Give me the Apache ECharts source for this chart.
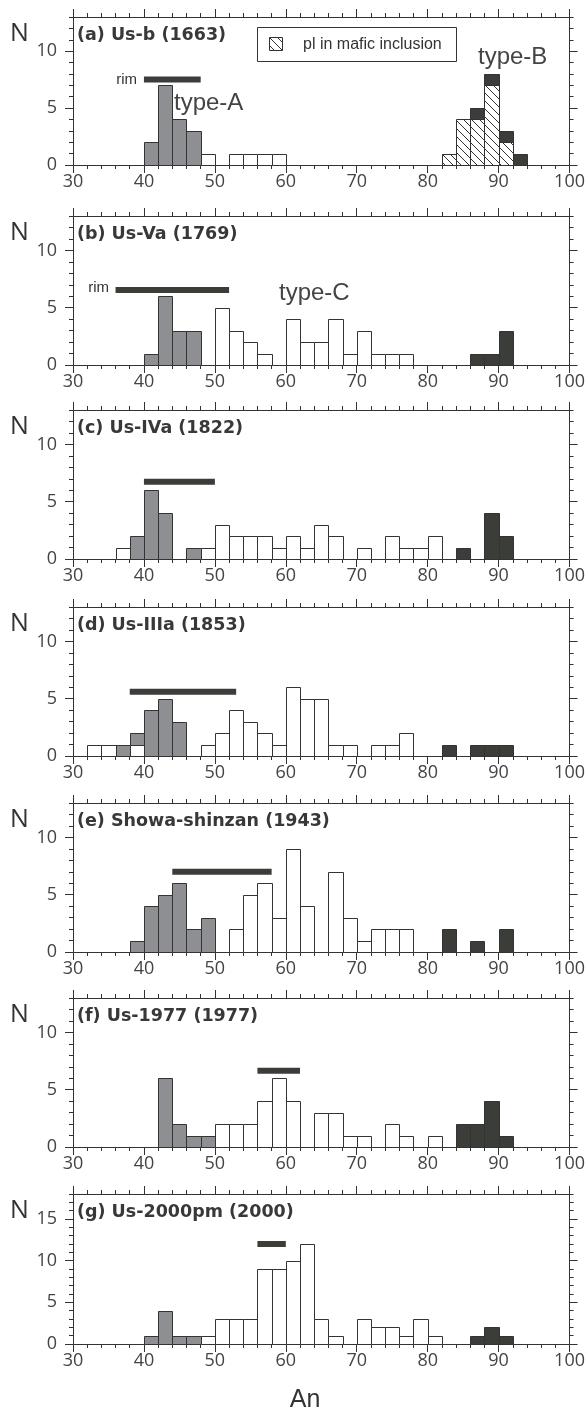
<!DOCTYPE html>
<html>
<head>
<meta charset="utf-8">
<script src="https://cdn.jsdelivr.net/npm/echarts@6/dist/echarts.min.js"></script>
<style>
  html, body { margin: 0; padding: 0; background: #fff; }
  #chart { width: 588px; height: 1413px; }
</style>
</head>
<body>
<div id="chart"></div>
<script>
// bin starts (An), each bin is 2 units wide
const bins = [30,32,34,36,38,40,42,44,46,48,50,52,54,56,58,60,62,64,66,68,70,72,74,76,78,80,82,84,86,88,90,92,94,96,98];
const binWidth = 2;

// counts per bin: white = type-C, gray = type-A, hatch = pl in mafic inclusion, black = type-B
const aWhite = [0,0,0,0,0, 0,0,0,0,1, 0,1,1,1,1, 0,0,0,0,0, 0,0,0,0,0, 0,0,0,0,0, 0,0,0,0,0];
const aGray  = [0,0,0,0,0, 2,7,4,3,0, 0,0,0,0,0, 0,0,0,0,0, 0,0,0,0,0, 0,0,0,0,0, 0,0,0,0,0];
const aHatch = [0,0,0,0,0, 0,0,0,0,0, 0,0,0,0,0, 0,0,0,0,0, 0,0,0,0,0, 0,1,4,4,7, 2,0,0,0,0];
const aBlack = [0,0,0,0,0, 0,0,0,0,0, 0,0,0,0,0, 0,0,0,0,0, 0,0,0,0,0, 0,0,0,1,1, 1,1,0,0,0];

const bWhite = [0,0,0,0,0, 0,0,0,0,0, 5,3,2,1,0, 4,2,2,4,1, 3,1,1,1,0, 0,0,0,0,0, 0,0,0,0,0];
const bGray  = [0,0,0,0,0, 1,6,3,3,0, 0,0,0,0,0, 0,0,0,0,0, 0,0,0,0,0, 0,0,0,0,0, 0,0,0,0,0];
const bBlack = [0,0,0,0,0, 0,0,0,0,0, 0,0,0,0,0, 0,0,0,0,0, 0,0,0,0,0, 0,0,0,1,1, 3,0,0,0,0];

const cWhite = [0,0,0,1,0, 0,0,0,0,1, 3,2,2,2,1, 2,1,3,2,0, 1,0,2,1,1, 2,0,0,0,0, 0,0,0,0,0];
const cGray  = [0,0,0,0,2, 6,4,0,1,0, 0,0,0,0,0, 0,0,0,0,0, 0,0,0,0,0, 0,0,0,0,0, 0,0,0,0,0];
const cBlack = [0,0,0,0,0, 0,0,0,0,0, 0,0,0,0,0, 0,0,0,0,0, 0,0,0,0,0, 0,0,1,0,4, 2,0,0,0,0];

const dWhite = [0,1,1,0,1, 0,0,0,0,1, 2,4,3,2,1, 6,5,5,1,1, 0,1,1,2,0, 0,0,0,0,0, 0,0,0,0,0];
const dGray  = [0,0,0,1,1, 4,5,3,0,0, 0,0,0,0,0, 0,0,0,0,0, 0,0,0,0,0, 0,0,0,0,0, 0,0,0,0,0];
const dBlack = [0,0,0,0,0, 0,0,0,0,0, 0,0,0,0,0, 0,0,0,0,0, 0,0,0,0,0, 0,1,0,1,1, 1,0,0,0,0];

const eWhite = [0,0,0,0,0, 0,0,0,0,0, 0,2,5,6,3, 9,4,0,7,3, 1,2,2,2,0, 0,0,0,0,0, 0,0,0,0,0];
const eGray  = [0,0,0,0,1, 4,5,6,2,3, 0,0,0,0,0, 0,0,0,0,0, 0,0,0,0,0, 0,0,0,0,0, 0,0,0,0,0];
const eBlack = [0,0,0,0,0, 0,0,0,0,0, 0,0,0,0,0, 0,0,0,0,0, 0,0,0,0,0, 0,2,0,1,0, 2,0,0,0,0];

const fWhite = [0,0,0,0,0, 0,0,0,0,0, 2,2,2,4,6, 4,0,3,3,1, 1,0,2,1,0, 1,0,0,0,0, 0,0,0,0,0];
const fGray  = [0,0,0,0,0, 0,6,2,1,1, 0,0,0,0,0, 0,0,0,0,0, 0,0,0,0,0, 0,0,0,0,0, 0,0,0,0,0];
const fBlack = [0,0,0,0,0, 0,0,0,0,0, 0,0,0,0,0, 0,0,0,0,0, 0,0,0,0,0, 0,0,2,2,4, 1,0,0,0,0];

const gWhite = [0,0,0,0,0, 0,0,0,0,1, 3,3,3,9,9, 10,12,3,1,0, 3,2,2,1,3, 1,0,0,0,0, 0,0,0,0,0];
const gGray  = [0,0,0,0,0, 1,4,1,1,0, 0,0,0,0,0, 0,0,0,0,0, 0,0,0,0,0, 0,0,0,0,0, 0,0,0,0,0];
const gBlack = [0,0,0,0,0, 0,0,0,0,0, 0,0,0,0,0, 0,0,0,0,0, 0,0,0,0,0, 0,0,0,1,2, 1,0,0,0,0];
const noHatch = bins.map(() => 0);

// rim range [from, to, N level]
const rimA = [40, 48, 7.5];
const rimB = [36, 52, 6.55];
const rimC = [40, 50, 6.75];
const rimD = [38, 53, 5.6];
const rimE = [44, 58, 7.0];
const rimF = [56, 62, 6.65];
const rimG = [56, 60, 12.0];

const titles = ['(a) Us-b (1663)', '(b) Us-Va (1769)', '(c) Us-IVa (1822)', '(d) Us-IIIa (1853)',
                '(e) Showa-shinzan (1943)', '(f) Us-1977 (1977)', '(g) Us-2000pm (2000)'];
const yMaxes = [13, 13, 13, 13, 13, 13, 18];
const yTicksSmall = [0, 5, 10];
const yTicksLarge = [0, 5, 10, 15];
const xTicks = [30, 40, 50, 60, 70, 80, 90, 100];

const panels = [
  { white: aWhite, gray: aGray, hatch: aHatch, black: aBlack, rim: rimA },
  { white: bWhite, gray: bGray, hatch: noHatch, black: bBlack, rim: rimB },
  { white: cWhite, gray: cGray, hatch: noHatch, black: cBlack, rim: rimC },
  { white: dWhite, gray: dGray, hatch: noHatch, black: dBlack, rim: rimD },
  { white: eWhite, gray: eGray, hatch: noHatch, black: eBlack, rim: rimE },
  { white: fWhite, gray: fGray, hatch: noHatch, black: fBlack, rim: rimF },
  { white: gWhite, gray: gGray, hatch: noHatch, black: gBlack, rim: rimG }
];

// layout
const gridTops    = [17, 216, 410, 607, 803, 998, 1194];
const gridBottoms = [165, 365, 559, 756, 952, 1147, 1344];
const ink = '#333333';
const labelColor = '#444444';

function makeHatch() {
  const c = document.createElement('canvas');
  c.width = 8; c.height = 8;
  const g = c.getContext('2d');
  g.fillStyle = '#ffffff';
  g.fillRect(0, 0, 8, 8);
  g.strokeStyle = ink;
  g.lineWidth = 1;
  g.beginPath();
  g.moveTo(-1, -1);
  g.lineTo(9, 9);
  g.stroke();
  return c;
}
const hatchFill = { image: makeHatch(), repeat: 'repeat' };
const fills = ['#ffffff', '#8e8f93', hatchFill, '#3b3d39'];

function renderBin(params, api) {
  const a = api.coord([api.value(0), api.value(1)]);
  const b = api.coord([api.value(0) + binWidth, api.value(2)]);
  const left = Math.round(a[0]) + 0.5, right = Math.round(b[0]) + 0.5;
  const bottom = Math.round(a[1]) + 0.5, top = Math.round(b[1]) + 0.5;
  return {
    type: 'rect',
    shape: { x: left, y: top, width: right - left, height: bottom - top },
    style: { fill: fills[api.value(3)], stroke: ink, lineWidth: 1 }
  };
}

function renderRim(params, api) {
  const a = api.coord([api.value(0), api.value(2)]);
  const b = api.coord([api.value(1), api.value(2)]);
  return {
    type: 'rect',
    shape: { x: a[0], y: a[1] - 3, width: b[0] - a[0], height: 6 },
    style: { fill: '#3b3d39' }
  };
}

const option = {
  animation: false,
  backgroundColor: '#ffffff',
  grid: [], xAxis: [], yAxis: [], series: [], graphic: []
};

const tickFont = { fontFamily: 'Open Sans', fontSize: 18, color: labelColor };

panels.forEach((p, i) => {
  const yTicks = yMaxes[i] > 15 ? yTicksLarge : yTicksSmall;
  option.grid.push({ left: 73, width: 498, top: gridTops[i], height: gridBottoms[i] - gridTops[i] });

  const xBase = {
    gridIndex: i, type: 'value', min: 30, max: 100, interval: 10,
    axisLine: { show: true, onZero: false, lineStyle: { color: ink, width: 1 } },
    axisTick: { show: true, length: 8, lineStyle: { color: ink } },
    minorTick: { show: true, splitNumber: 5, length: 4, lineStyle: { color: ink } },
    splitLine: { show: false }
  };
  option.xAxis.push(Object.assign({}, xBase, {
    position: 'bottom',
    axisLabel: Object.assign({ margin: 8, customValues: xTicks }, tickFont)
  }));
  option.xAxis.push(Object.assign({}, xBase, { position: 'top', axisLabel: { show: false } }));

  ['left', 'right'].forEach(side => {
    option.yAxis.push({
      gridIndex: i, type: 'value', min: 0, max: yMaxes[i], interval: 5, position: side,
      axisLine: { show: true, onZero: false, lineStyle: { color: ink, width: 1 } },
      axisTick: { show: true, length: 8, customValues: yTicks, lineStyle: { color: ink } },
      axisLabel: side === 'left'
        ? Object.assign({ margin: 16, customValues: yTicks }, tickFont)
        : { show: false },
      splitLine: { show: false }
    });
    option.yAxis.push({
      gridIndex: i, type: 'value', min: 0, max: yMaxes[i], interval: 1, position: side,
      axisLine: { show: false },
      axisTick: { show: true, length: 4, lineStyle: { color: ink } },
      axisLabel: { show: false },
      splitLine: { show: false }
    });
  });

  // stack order from the bottom: white, gray, hatch, black
  const data = [];
  bins.forEach((x, j) => {
    let base = 0;
    [p.white[j], p.gray[j], p.hatch[j], p.black[j]].forEach((n, k) => {
      const kind = [0, 1, 2, 3][k];
      if (n > 0) { data.push([x, base, base + n, kind]); base += n; }
    });
  });
  option.series.push({
    type: 'custom', xAxisIndex: 2 * i, yAxisIndex: 4 * i,
    renderItem: renderBin, data: data, clip: false, silent: true
  });
  option.series.push({
    type: 'custom', xAxisIndex: 2 * i, yAxisIndex: 4 * i,
    renderItem: renderRim, data: [p.rim], clip: false, silent: true
  });

  option.graphic.push({
    type: 'text', x: 10, y: gridTops[i] + 17,
    style: { text: 'N', font: '25px "Open Sans"', fill: ink, verticalAlign: 'middle' }
  });
  option.graphic.push({
    type: 'text', x: 77, y: gridTops[i] + 18,
    style: { text: titles[i], font: 'bold 17.5px "DejaVu Sans"', fill: '#383838', verticalAlign: 'middle' }
  });
});

const annoFont = '24px "Liberation Sans"';
option.graphic.push(
  { type: 'rect', shape: { x: 257.5, y: 27.5, width: 199, height: 34 }, style: { fill: '#fff', stroke: ink, lineWidth: 1 } },
  { type: 'rect', shape: { x: 269.5, y: 37.5, width: 13, height: 13 }, style: { fill: hatchFill, stroke: ink, lineWidth: 1 } },
  { type: 'text', x: 303, y: 44.5, style: { text: 'pl in mafic inclusion', font: '16px "Liberation Sans"', fill: ink, verticalAlign: 'middle' } },
  { type: 'text', x: 137, y: 80, style: { text: 'rim', font: '15px "Liberation Sans"', fill: ink, align: 'right', verticalAlign: 'middle' } },
  { type: 'text', x: 109, y: 288, style: { text: 'rim', font: '15px "Liberation Sans"', fill: ink, align: 'right', verticalAlign: 'middle' } },
  { type: 'text', x: 174, y: 103, style: { text: 'type-A', font: annoFont, fill: '#444', verticalAlign: 'middle' } },
  { type: 'text', x: 478, y: 57, style: { text: 'type-B', font: annoFont, fill: '#444', verticalAlign: 'middle' } },
  { type: 'text', x: 279, y: 293, style: { text: 'type-C', font: annoFont, fill: '#444', verticalAlign: 'middle' } },
  { type: 'text', x: 305, y: 1400, style: { text: 'An', font: '25px "Liberation Sans"', fill: ink, align: 'center', verticalAlign: 'middle' } }
);

const chart = echarts.init(document.getElementById('chart'));
chart.setOption(option);
</script>
</body>
</html>
